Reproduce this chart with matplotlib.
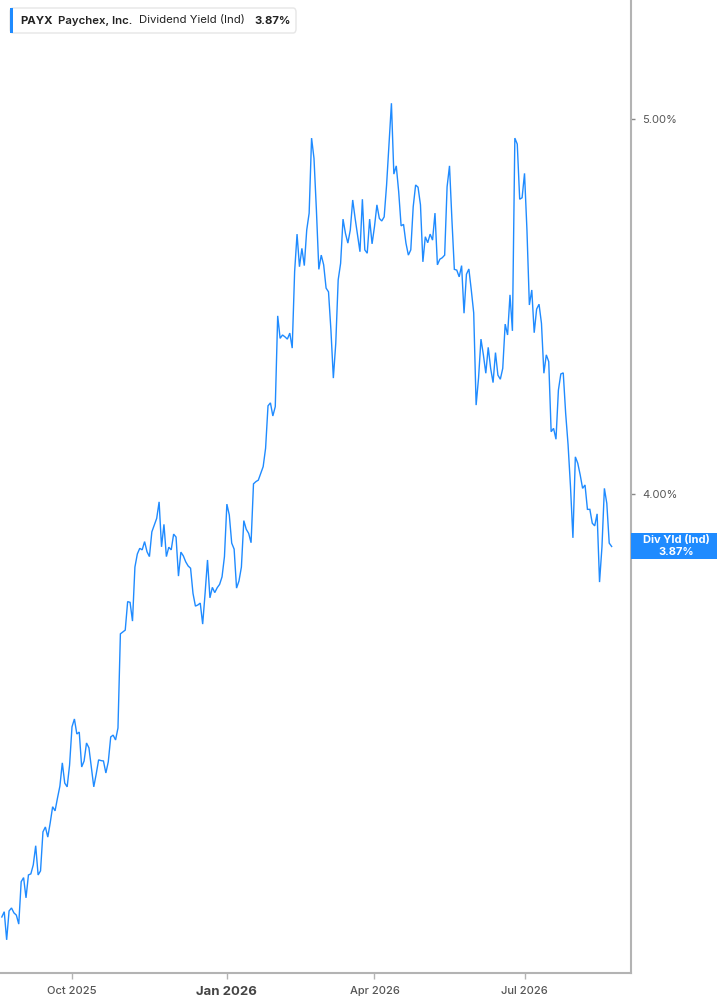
import numpy as np
import pandas as pd
import matplotlib
matplotlib.use("Agg")
import matplotlib.pyplot as plt
from matplotlib.patches import FancyBboxPatch, Rectangle

plt.rcParams["font.family"] = ["Inter", "DejaVu Sans"]

# PAYX indicated dividend yield (%), one value per trading day from 2025-08-20
yields = [
    2.872, 2.886, 2.811, 2.888, 2.896, 2.883, 2.877, 2.853, 2.966, 2.977,
    2.923, 2.984, 2.987, 3.011, 3.062, 2.984, 2.995, 3.099, 3.112, 3.085,
    3.123, 3.166, 3.155, 3.189, 3.221, 3.283, 3.229, 3.219, 3.277, 3.379,
    3.400, 3.360, 3.365, 3.272, 3.288, 3.336, 3.323, 3.272, 3.219, 3.253,
    3.291, 3.289, 3.288, 3.256, 3.286, 3.352, 3.357, 3.344, 3.376, 3.627,
    3.632, 3.637, 3.713, 3.711, 3.661, 3.805, 3.840, 3.855, 3.851, 3.873,
    3.846, 3.833, 3.899, 3.917, 3.935, 3.979, 3.859, 3.919, 3.833, 3.858,
    3.851, 3.893, 3.885, 3.781, 3.845, 3.835, 3.819, 3.808, 3.802, 3.735,
    3.701, 3.704, 3.709, 3.653, 3.735, 3.824, 3.723, 3.751, 3.737, 3.750,
    3.759, 3.779, 3.833, 3.973, 3.944, 3.869, 3.853, 3.749, 3.768, 3.805,
    3.929, 3.906, 3.895, 3.870, 4.027, 4.033, 4.037, 4.055, 4.073, 4.122,
    4.235, 4.243, 4.208, 4.233, 4.475, 4.415, 4.424, 4.419, 4.413, 4.429,
    4.389, 4.593, 4.693, 4.606, 4.655, 4.609, 4.704, 4.749, 4.949, 4.895,
    4.757, 4.599, 4.637, 4.611, 4.549, 4.539, 4.437, 4.309, 4.402, 4.571,
    4.615, 4.733, 4.695, 4.669, 4.704, 4.784, 4.735, 4.691, 4.646, 4.786,
    4.651, 4.642, 4.733, 4.667, 4.713, 4.771, 4.735, 4.728, 4.739, 4.824,
    4.935, 5.042, 4.853, 4.875, 4.806, 4.715, 4.719, 4.669, 4.637, 4.651,
    4.766, 4.824, 4.818, 4.771, 4.619, 4.686, 4.670, 4.693, 4.677, 4.749,
    4.611, 4.626, 4.630, 4.637, 4.819, 4.875, 4.731, 4.599, 4.597, 4.579,
    4.609, 4.482, 4.586, 4.600, 4.544, 4.483, 4.237, 4.309, 4.413, 4.371,
    4.322, 4.391, 4.335, 4.297, 4.377, 4.317, 4.306, 4.335, 4.453, 4.424,
    4.531, 4.435, 4.949, 4.933, 4.786, 4.790, 4.855, 4.704, 4.504, 4.544,
    4.430, 4.493, 4.506, 4.455, 4.322, 4.371, 4.353, 4.166, 4.175, 4.146,
    4.277, 4.320, 4.323, 4.215, 4.131, 4.019, 3.883, 4.099, 4.082, 4.051,
    4.015, 4.024, 3.959, 3.959, 3.922, 3.915, 3.947, 3.765, 3.859, 4.015,
    3.975, 3.869, 3.860,
]

# NYSE closures in the window
holidays = ["2025-09-01", "2025-11-27", "2025-12-25", "2026-01-01", "2026-01-19",
            "2026-02-16", "2026-04-03", "2026-05-25", "2026-06-19", "2026-07-03"]

tick_months = ["2025-10", "2026-01", "2026-04", "2026-07"]
tick_labels = ["Oct 2025", "Jan 2026", "Apr 2026", "Jul 2026"]
y_ticks = [4.0, 5.0]

dates = pd.bdate_range("2025-08-20", periods=len(yields), freq="C", holidays=holidays)
x = np.arange(len(yields))
month_key = dates.strftime("%Y-%m")
tick_pos = [int(np.argmax(month_key == m)) for m in tick_months]

LINE = "#1f8bff"
GREY = "#b3b3b3"
W, H = 717, 1005

fig = plt.figure(figsize=(W / 100, H / 100), dpi=100)
ax = fig.add_axes([0, 32 / H, 631 / W, 1 - 32 / H])
ax.plot(x, yields, color=LINE, lw=1.0, solid_joinstyle="miter")

ax.set_xlim(-0.75, 260)
ax.set_ylim(2.7226, 5.3173)

for s in ["top", "left"]:
    ax.spines[s].set_visible(False)
for s in ["right", "bottom"]:
    ax.spines[s].set_color(GREY)
    ax.spines[s].set_linewidth(1.5)

ax.yaxis.tick_right()
ax.set_yticks(y_ticks)
ax.set_yticklabels([f"{v:.2f}%" for v in y_ticks])
ax.tick_params(axis="y", length=3, width=1, color="#888888", pad=5,
               labelsize=8, labelcolor="#555555")

ax.set_xticks(tick_pos)
ax.set_xticklabels(tick_labels)
ax.tick_params(axis="x", length=4, width=1, color=GREY, pad=5,
               labelsize=8, labelcolor="#555555")
for lbl in ax.get_xticklabels():
    if lbl.get_text().startswith("Jan"):
        lbl.set_fontsize(9.5)
        lbl.set_fontweight("bold")
        lbl.set_color("#444444")
    else:
        lbl.set_fontweight("medium")


def fx(px):
    return px / W


def fy(py):
    return 1 - py / H


# header box
fig.patches.append(FancyBboxPatch((fx(10), fy(33)), fx(286), 25 / H,
                                  boxstyle="round,pad=0,rounding_size=0.004",
                                  transform=fig.transFigure, facecolor="white",
                                  edgecolor="#e6e6e6", lw=1))
fig.patches.append(Rectangle((fx(10), fy(33)), fx(3), 25 / H,
                             transform=fig.transFigure, facecolor=LINE, lw=0))
hy = fy(20.5)
hs = 8.2
fig.text(fx(20), hy, "PAYX", fontsize=hs, fontweight="bold", color="#222222", va="center")
fig.text(fx(58), hy, "Paychex, Inc.", fontsize=hs, fontweight="semibold", color="#222222", va="center")
fig.text(fx(139), hy, "Dividend Yield (Ind)", fontsize=hs, color="#222222", va="center")
fig.text(fx(254), hy, "3.87%", fontsize=hs, fontweight="bold", color="#222222", va="center")

# last value label on the right axis
ly = ax.transData.transform((0, yields[-1]))[1]
ly_px = H - ly
fig.patches.append(Rectangle((fx(631), fy(ly_px + 13)), fx(86), 26 / H,
                             transform=fig.transFigure, facecolor=LINE, lw=0))
fig.text(fx(676), fy(ly_px - 6), "Div Yld (Ind)", fontsize=8, fontweight="bold",
         color="white", ha="center", va="center")
fig.text(fx(676), fy(ly_px + 6), "3.87%", fontsize=8, fontweight="bold",
         color="white", ha="center", va="center")

fig.savefig("out.png", dpi=100)
